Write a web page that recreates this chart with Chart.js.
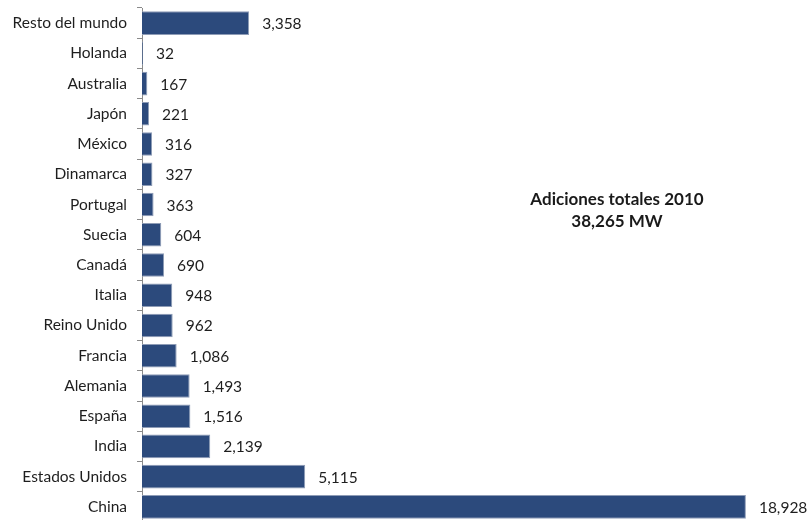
<!DOCTYPE html>
<html>
<head>
<meta charset="utf-8">
<script src="https://cdn.jsdelivr.net/npm/chart.js@4"></script>
<style>
  html, body { margin: 0; padding: 0; background: #ffffff; overflow: hidden; width: 812px; height: 520px; }
  canvas { display: block; }
</style>
</head>
<body>
<canvas id="chart" width="812" height="522"></canvas>
<script>
// Capacidad eólica añadida en 2010, por país (MW)
const countries = [
  "Resto del mundo", "Holanda", "Australia", "Japón", "México", "Dinamarca",
  "Portugal", "Suecia", "Canadá", "Italia", "Reino Unido", "Francia",
  "Alemania", "España", "India", "Estados Unidos", "China"
];
const additionsMW = [
  3358, 32, 167, 221, 316, 327,
  363, 604, 690, 948, 962, 1086,
  1493, 1516, 2139, 5115, 18928
];
const totalTitle = "Adiciones totales 2010";
const totalValue = "38,265 MW";

const FONT = "Lato, 'Open Sans', sans-serif";

// Value labels to the right of each bar
const valueLabels = {
  id: "valueLabels",
  afterDatasetsDraw(chart) {
    const ctx = chart.ctx;
    const meta = chart.getDatasetMeta(0);
    ctx.save();
    ctx.font = "15.5px " + FONT;
    ctx.fillStyle = "#1e1e1e";
    ctx.textAlign = "left";
    ctx.textBaseline = "middle";
    meta.data.forEach((bar, i) => {
      ctx.fillText(additionsMW[i].toLocaleString("en-US"), bar.x + 13, bar.y + 1);
    });
    ctx.restore();
  }
};

// Total annotation in the open area of the plot
const totalNote = {
  id: "totalNote",
  afterDraw(chart) {
    const ctx = chart.ctx;
    ctx.save();
    ctx.font = "bold 17px " + FONT;
    ctx.fillStyle = "#1a1a1a";
    ctx.textAlign = "center";
    ctx.textBaseline = "middle";
    ctx.fillText(totalTitle, 617, 200);
    ctx.fillText(totalValue, 617, 222);
    ctx.restore();
  }
};

new Chart(document.getElementById("chart"), {
  type: "bar",
  data: {
    labels: countries,
    datasets: [{
      data: additionsMW,
      backgroundColor: "#2c4a7c",
      borderColor: "#8e9cb6",
      borderWidth: 1,
      barPercentage: 0.78,
      categoryPercentage: 1.0
    }]
  },
  options: {
    indexAxis: "y",
    responsive: false,
    animation: false,
    layout: { padding: { top: 8, right: 0, bottom: 0, left: 0 } },
    plugins: {
      legend: { display: false },
      tooltip: { enabled: false }
    },
    scales: {
      x: {
        display: false,
        min: 0,
        max: 21000
      },
      y: {
        afterFit(scale) {
          scale.width = 142;
          scale.paddingTop = 0;
          scale.paddingBottom = 0;
        },
        grid: {
          drawOnChartArea: false,
          drawTicks: true,
          tickLength: 5,
          color: "#8a8a8a",
          offset: true
        },
        border: { display: true, color: "#8a8a8a", width: 1 },
        ticks: {
          padding: 10,
          color: "#1e1e1e",
          font: { family: FONT, size: 15.5 }
        }
      }
    }
  },
  plugins: [valueLabels, totalNote]
});
</script>
</body>
</html>
